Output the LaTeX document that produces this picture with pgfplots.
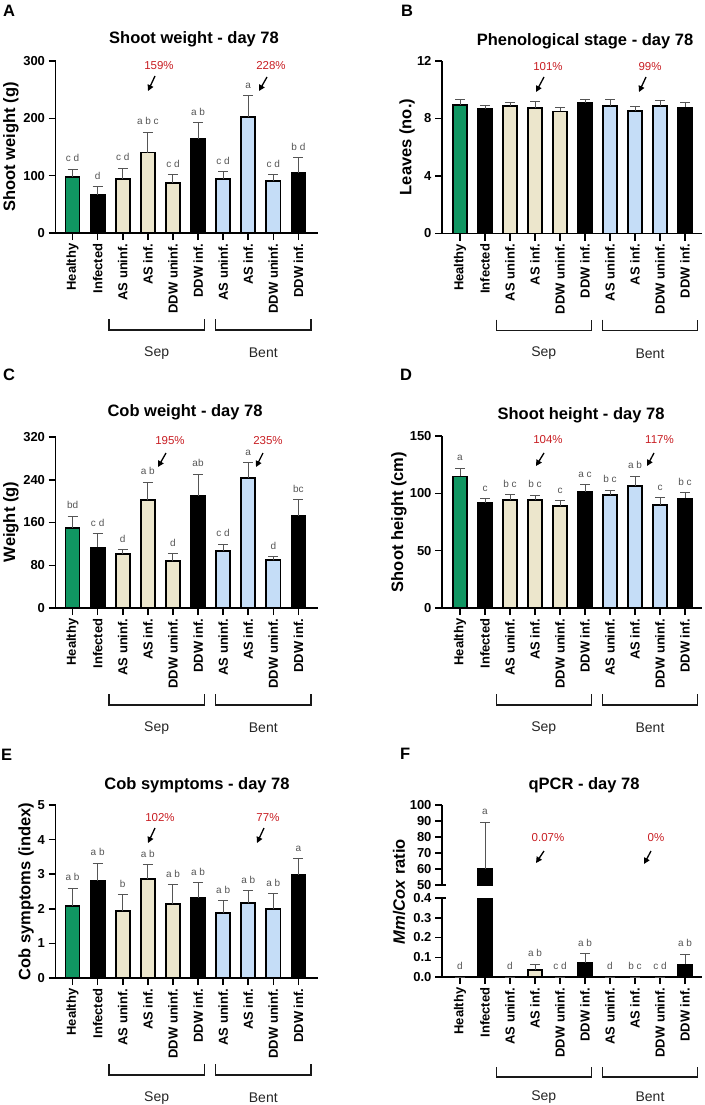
\documentclass[border=0pt]{standalone}
\usepackage{fontspec}
\setmainfont{Liberation Sans}
\usepackage{pgfplots}
\pgfplotsset{compat=1.18}
\usetikzlibrary{arrows.meta}

\definecolor{hgreen}{RGB}{16,150,98}
\definecolor{beige}{RGB}{236,230,204}
\definecolor{lblue}{RGB}{197,221,247}
\definecolor{errgray}{RGB}{85,85,85}
\definecolor{letgray}{RGB}{85,85,85}
\definecolor{pctred}{RGB}{200,30,35}

\newcommand\tickfont{\bfseries\fontsize{13}{13}\selectfont}
\newcommand\labfont{\bfseries\fontsize{16.5}{16.5}\selectfont}
\newcommand\letfont{\fontsize{10}{10}\selectfont}
\newcommand\pctfont{\fontsize{11.5}{11.5}\selectfont}
\newcommand\grpfont{\fontsize{14}{14}\selectfont}

\newcommand\lab[3]{\node[font=\letfont, text=letgray, anchor=base, inner sep=0pt, yshift=7.5pt] at (axis cs:#1,#2) {#3};}
\newcommand\brackets[2]{%
  \draw[line width=1.5pt, black!90] ([yshift=-#1pt]axis cs:1.45,0) -- ([yshift=-#2pt]axis cs:1.45,0) -- ([yshift=-#2pt]axis cs:5.25,0) -- ([yshift=-#1pt]axis cs:5.25,0);
  \draw[line width=1.5pt, black!90] ([yshift=-#1pt]axis cs:5.7,0) -- ([yshift=-#2pt]axis cs:5.7,0) -- ([yshift=-#2pt]axis cs:9.5,0) -- ([yshift=-#1pt]axis cs:9.5,0);
  \node[font=\grpfont, text=black!85] at ([yshift=-120pt]axis cs:3.35,0) {Sep};
  \node[font=\grpfont, text=black!85] at ([yshift=-120pt]axis cs:7.6,0) {Bent};
}

\pgfplotsset{
  panel/.style={
    scale only axis,
    axis x line*=bottom, axis y line*=left,
    axis line style={line width=1.8pt, -},
    tick style={line width=1.5pt, black},
    tick align=outside, major tick length=7pt,
    xtick={0,...,9},
    xticklabels={Healthy, Infected, AS uninf., AS inf., DDW uninf., DDW inf., AS uninf., AS inf., DDW uninf., DDW inf.},
    xticklabel style={rotate=90, anchor=east, font=\tickfont},
    yticklabel style={font=\tickfont},
    /pgf/number format/assume math mode=true,
    ymin=0, clip mode=individual,
  },
  left panel/.style={panel, xmin=-0.68, xmax=9.76, width=262pt},
  right panel/.style={panel, xmin=-0.72, xmax=9.68, width=260pt},
  bars/.style={ybar, bar width=0.56, bar shift=0pt, fill=#1, draw=black, line width=1.7pt,
    error bars/.cd, y dir=plus, y explicit,
    error bar style={line width=1pt, draw=errgray},
    error mark options={rotate=90, line width=1pt, mark size=5pt, draw=errgray}},
}

\begin{document}
\begin{tikzpicture}[x=1pt,y=1pt]
\useasboundingbox (0,0) rectangle (704,-1105);

% ---------------- A ----------------
\begin{axis}[left panel, at={(55.5pt,-233pt)}, anchor=south west, height=172pt, ymax=300, ytick={0,100,200,300}]
\addplot[bars=hgreen] coordinates {(0,97.5) +- (0,13.9)};
\addplot[bars=black] coordinates {(1,66) +- (0,14.7) (5,164.8) +- (0,27.2) (9,105) +- (0,26)};
\addplot[bars=beige] coordinates {(2,94.6) +- (0,18.4) (3,140.4) +- (0,35.5) (4,87.6) +- (0,14.4)};
\addplot[bars=lblue] coordinates {(6,94.6) +- (0,12.2) (7,202) +- (0,37) (8,90.5) +- (0,11.5)};
\lab{0}{111.4}{c d}\lab{1}{80.7}{d}\lab{2}{113}{c d}\lab{3}{175.9}{a b c}\lab{4}{102}{c d}
\lab{5}{192}{a b}\lab{6}{106.8}{c d}\lab{7}{239}{a}\lab{8}{102}{c d}\lab{9}{131}{b d}
\brackets{86}{97}
\end{axis}

% ---------------- B ----------------
\begin{axis}[right panel, at={(442pt,-233.5pt)}, anchor=south west, height=172.5pt, ymax=12, ytick={0,4,8,12}]
\addplot[bars=hgreen] coordinates {(0,8.95) +- (0,0.37)};
\addplot[bars=black] coordinates {(1,8.65) +- (0,0.25) (5,9.09) +- (0,0.23) (9,8.77) +- (0,0.34)};
\addplot[bars=beige] coordinates {(2,8.86) +- (0,0.25) (3,8.72) +- (0,0.44) (4,8.49) +- (0,0.30)};
\addplot[bars=lblue] coordinates {(6,8.86) +- (0,0.46) (7,8.53) +- (0,0.33) (8,8.86) +- (0,0.37)};
\brackets{86}{97}
\end{axis}

% ---------------- C ----------------
\begin{axis}[left panel, at={(55.5pt,-608pt)}, anchor=south west, height=171pt, ymax=320, ytick={0,80,160,240,320}]
\addplot[bars=hgreen] coordinates {(0,149.5) +- (0,22.3)};
\addplot[bars=black] coordinates {(1,113.5) +- (0,25.5) (5,209.6) +- (0,40.4) (9,173) +- (0,29.8)};
\addplot[bars=beige] coordinates {(2,101) +- (0,8) (3,201.6) +- (0,33.4) (4,87.4) +- (0,14.3)};
\addplot[bars=lblue] coordinates {(6,107.3) +- (0,11.7) (7,243.7) +- (0,27.9) (8,89.3) +- (0,6.2)};
\lab{0}{171.8}{bd}\lab{1}{139}{c d}\lab{2}{109}{d}\lab{3}{235}{a b}\lab{4}{101.7}{d}
\lab{5}{250}{ab}\lab{6}{119}{c d}\lab{7}{271.6}{a}\lab{8}{95.5}{d}\lab{9}{202.8}{bc}
\brackets{86}{97}
\end{axis}

% ---------------- D ----------------
\begin{axis}[right panel, at={(442pt,-608pt)}, anchor=south west, height=172pt, ymax=150, ytick={0,50,100,150}]
\addplot[bars=hgreen] coordinates {(0,114.8) +- (0,7)};
\addplot[bars=black] coordinates {(1,91.3) +- (0,4) (5,101.2) +- (0,6.4) (9,95.6) +- (0,4.7)};
\addplot[bars=beige] coordinates {(2,93.9) +- (0,4.9) (3,94.2) +- (0,4.3) (4,88.7) +- (0,4.9)};
\addplot[bars=lblue] coordinates {(6,98.3) +- (0,4.6) (7,106.7) +- (0,8.4) (8,90.1) +- (0,6.1)};
\lab{0}{121.8}{a}\lab{1}{95.3}{c}\lab{2}{98.8}{b c}\lab{3}{98.5}{b c}\lab{4}{93.6}{c}
\lab{5}{107.6}{a c}\lab{6}{102.9}{b c}\lab{7}{115.1}{a b}\lab{8}{96.2}{c}\lab{9}{100.3}{b c}
\brackets{86}{97}
\end{axis}

% ---------------- E ----------------
\begin{axis}[left panel, at={(55.5pt,-978pt)}, anchor=south west, height=173pt, ymax=5, ytick={0,1,2,3,4,5}]
\addplot[bars=hgreen] coordinates {(0,2.09) +- (0,0.51)};
\addplot[bars=black] coordinates {(1,2.81) +- (0,0.50) (5,2.32) +- (0,0.44) (9,2.98) +- (0,0.46)};
\addplot[bars=beige] coordinates {(2,1.93) +- (0,0.47) (3,2.86) +- (0,0.41) (4,2.13) +- (0,0.57)};
\addplot[bars=lblue] coordinates {(6,1.87) +- (0,0.36) (7,2.16) +- (0,0.36) (8,1.99) +- (0,0.45)};
\lab{0}{2.6}{a b}\lab{1}{3.31}{a b}\lab{2}{2.40}{b}\lab{3}{3.27}{a b}\lab{4}{2.70}{a b}
\lab{5}{2.76}{a b}\lab{6}{2.23}{a b}\lab{7}{2.52}{a b}\lab{8}{2.44}{a b}\lab{9}{3.44}{a}
\brackets{86}{97}
\end{axis}

% ---------------- F (lower) ----------------
\begin{axis}[right panel, at={(442pt,-977pt)}, anchor=south west, height=79pt, ymax=0.4, ytick={0,0.1,0.2,0.3,0.4},
  yticklabel style={/pgf/number format/fixed, /pgf/number format/precision=1, /pgf/number format/fixed zerofill}]
\addplot[bars=hgreen] coordinates {(0,0) +- (0,0)};
% Infected bar (59.8) is cut at the axis break
\addplot[restrict y to domain*=0:0.5, bars=black] coordinates {(1,59.8)};
\addplot[bars=black] coordinates {(5,0.071) +- (0,0.048) (9,0.064) +- (0,0.05)};
\addplot[bars=beige] coordinates {(2,0) +- (0,0) (3,0.037) +- (0,0.027) (4,0) +- (0,0)};
\addplot[bars=lblue] coordinates {(6,0) +- (0,0) (7,0) +- (0,0) (8,0) +- (0,0)};
\lab{0}{0}{d}\lab{2}{0}{d}\lab{3}{0.064}{a b}\lab{4}{0}{c d}
\lab{5}{0.119}{a b}\lab{6}{0}{d}\lab{7}{0}{b c}\lab{8}{0}{c d}\lab{9}{0.114}{a b}
\draw[line width=1.5pt] (axis cs:-0.72,0.4) -- ([xshift=4pt]axis cs:-0.72,0.4);
\brackets{90}{100}
\end{axis}

% ---------------- F (upper) ----------------
\begin{axis}[right panel, at={(442pt,-885pt)}, anchor=south west, height=80pt, ymin=50, ymax=100, ytick={50,60,70,80,90,100}, hide x axis]
\addplot[bars=black] coordinates {(1,59.8) +- (0,29.4)};
\lab{1}{89.2}{a}
\draw[line width=1.5pt] (axis cs:-0.72,50) -- ([xshift=4pt]axis cs:-0.72,50);
\end{axis}

% ---------------- titles, labels ----------------
\node[font=\labfont, anchor=base] at (194,-44) {Shoot weight - day 78};
\node[font=\labfont, anchor=base] at (585,-45.5) {Phenological stage - day 78};
\node[font=\labfont, anchor=base] at (185,-416) {Cob weight - day 78};
\node[font=\labfont, anchor=base] at (581,-419) {Shoot height - day 78};
\node[font=\labfont, anchor=base] at (197,-789) {Cob symptoms - day 78};
\node[font=\labfont, anchor=base] at (584,-789) {qPCR - day 78};

\node[font=\labfont, rotate=90] at (11,-147) {Shoot weight (g)};
\node[font=\labfont, rotate=90] at (407,-147) {Leaves (no.)};
\node[font=\labfont, rotate=90] at (11,-522) {Weight (g)};
\node[font=\labfont, rotate=90] at (399,-522) {Shoot height (cm)};
\node[font=\labfont, rotate=90] at (26,-891.5) {Cob symptoms (index)};
\node[font=\labfont, rotate=90] at (399,-891.5) {\textit{Mm}/\textit{Cox} ratio};

\node[font=\labfont, anchor=base west, inner sep=0pt] at (3,-17) {A};
\node[font=\labfont, anchor=base west, inner sep=0pt] at (401,-17) {B};
\node[font=\labfont, anchor=base west, inner sep=0pt] at (3,-380) {C};
\node[font=\labfont, anchor=base west, inner sep=0pt] at (400,-380) {D};
\node[font=\labfont, anchor=base west, inner sep=0pt] at (1,-760) {E};
\node[font=\labfont, anchor=base west, inner sep=0pt] at (400,-759) {F};

% ---------------- percentages ----------------
\tikzset{pct/.style={font=\pctfont, text=pctred, inner sep=0pt}, arr/.style={line width=1.3pt, -{Triangle[length=6pt,width=6pt]}}}
\node[pct] at (159,-66) {159\%}; \draw[arr] (155,-76) -- (148,-91);
\node[pct] at (271,-66) {228\%}; \draw[arr] (267,-77) -- (259,-91);
\node[pct] at (548,-67) {101\%}; \draw[arr] (544,-77) -- (536,-92);
\node[pct] at (650,-67) {99\%}; \draw[arr] (646,-77) -- (639,-92);
\node[pct] at (170,-441) {195\%}; \draw[arr] (166,-453) -- (158,-467);
\node[pct] at (268,-441) {235\%}; \draw[arr] (263,-453) -- (256,-467);
\node[pct] at (548,-440) {104\%}; \draw[arr] (544,-453) -- (536,-466);
\node[pct] at (659.5,-440) {117\%}; \draw[arr] (654,-453) -- (647,-466);
\node[pct] at (160,-818) {102\%}; \draw[arr] (155,-828) -- (148,-843);
\node[pct] at (268,-818) {77\%}; \draw[arr] (264,-828) -- (257,-843);
\node[pct] at (548,-838) {0.07\%}; \draw[arr] (544,-851) -- (536,-863);
\node[pct] at (656,-838) {0\%}; \draw[arr] (651,-851) -- (644,-864);
\end{tikzpicture}
\end{document}
